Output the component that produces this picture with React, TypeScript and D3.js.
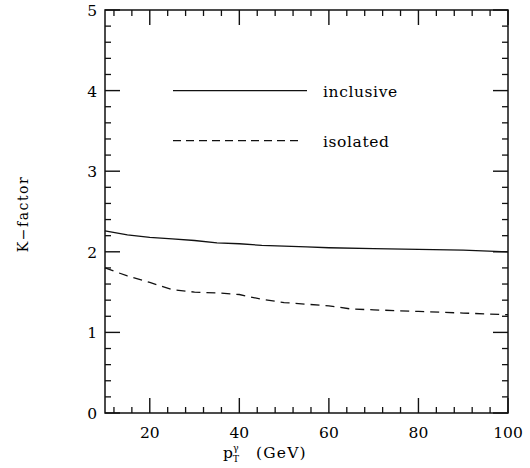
import React from "react";
import * as d3 from "d3";

const inclusivePt = [10, 15, 20, 25, 30, 35, 40, 45, 50, 55, 60, 70, 80, 90, 100];
const inclusiveK = [2.26, 2.21, 2.18, 2.16, 2.14, 2.11, 2.1, 2.08, 2.07, 2.06, 2.05, 2.04, 2.03, 2.02, 2.0];
const isolatedPt = [10, 15, 20, 25, 30, 35, 40, 45, 50, 55, 60, 65, 70, 80, 90, 100];
const isolatedK = [1.8, 1.7, 1.62, 1.53, 1.5, 1.49, 1.47, 1.41, 1.37, 1.35, 1.33, 1.29, 1.28, 1.26, 1.24, 1.22];
const xMajorTicks = [20, 40, 60, 80, 100];
const yMajorTicks = [0, 1, 2, 3, 4, 5];
const legendLabels = ["inclusive", "isolated"];

const FONT = "DejaVu Serif";

export default function App() {
  const L = 105, R = 508, T = 10, B = 413;
  const x = d3.scaleLinear().domain([10, 100]).range([L, R]);
  const y = d3.scaleLinear().domain([0, 5]).range([B, T]);
  const line = d3.line<[number, number]>().x(d => x(d[0])).y(d => y(d[1]));
  const incl = inclusivePt.map((p, i) => [p, inclusiveK[i]] as [number, number]);
  const iso = isolatedPt.map((p, i) => [p, isolatedK[i]] as [number, number]);

  const xMinor = d3.range(12, 100, 4).filter(v => !xMajorTicks.includes(v));
  const yMinor = d3.range(0, 5.001, 0.2).filter(v => Math.abs(v - Math.round(v)) > 1e-6);

  const majLen = 15, minLen = 6;
  const stroke = "#111";
  const fs = 15.5;

  return (
    <svg width={530} height={468} style={{ display: "block", position: "absolute", left: 0, top: 0 }}>
      <rect x={0} y={0} width={530} height={468} fill="#fff" />
      <rect x={L} y={T} width={R - L} height={B - T} fill="none" stroke={stroke} strokeWidth={1.5} />
      {xMajorTicks.map(v => (
        <g key={"xM" + v}>
          <line x1={x(v)} x2={x(v)} y1={B} y2={B - majLen} stroke={stroke} strokeWidth={1.4} />
          <line x1={x(v)} x2={x(v)} y1={T} y2={T + majLen} stroke={stroke} strokeWidth={1.4} />
          <text x={x(v)} y={438} textAnchor="middle" fontFamily={FONT} fontSize={fs} fill="#000">{v}</text>
        </g>
      ))}
      {xMinor.map(v => (
        <g key={"xm" + v}>
          <line x1={x(v)} x2={x(v)} y1={B} y2={B - minLen} stroke={stroke} strokeWidth={1.3} />
          <line x1={x(v)} x2={x(v)} y1={T} y2={T + minLen} stroke={stroke} strokeWidth={1.3} />
        </g>
      ))}
      {yMajorTicks.map(v => (
        <g key={"yM" + v}>
          <line x1={L} x2={L + majLen} y1={y(v)} y2={y(v)} stroke={stroke} strokeWidth={1.4} />
          <line x1={R} x2={R - majLen} y1={y(v)} y2={y(v)} stroke={stroke} strokeWidth={1.4} />
          <text x={97} y={y(v) + 6} textAnchor="end" fontFamily={FONT} fontSize={fs} fill="#000">{v}</text>
        </g>
      ))}
      {yMinor.map(v => (
        <g key={"ym" + v.toFixed(1)}>
          <line x1={L} x2={L + minLen} y1={y(v)} y2={y(v)} stroke={stroke} strokeWidth={1.3} />
          <line x1={R} x2={R - minLen} y1={y(v)} y2={y(v)} stroke={stroke} strokeWidth={1.3} />
        </g>
      ))}
      <path d={line(incl) || ""} fill="none" stroke={stroke} strokeWidth={1.3} />
      <path d={line(iso) || ""} fill="none" stroke={stroke} strokeWidth={1.3} strokeDasharray="9,6" />
      <line x1={173} x2={307} y1={y(4)} y2={y(4)} stroke={stroke} strokeWidth={1.3} />
      <text x={323} y={y(4) + 6} fontFamily={FONT} fontSize={fs} letterSpacing={0.6} fill="#000">{legendLabels[0]}</text>
      <line x1={173} x2={302} y1={y(3.38)} y2={y(3.38)} stroke={stroke} strokeWidth={1.3} strokeDasharray="8,5" />
      <text x={323} y={y(3.38) + 6} fontFamily={FONT} fontSize={fs} letterSpacing={0.6} fill="#000">{legendLabels[1]}</text>
      <text x={223} y={458} fontFamily={FONT} fontSize={fs} fill="#000">
        p
        <tspan fontSize={9.5} dy={-7}>γ</tspan>
        <tspan fontSize={9.5} dx={-6} dy={11}>T</tspan>
        <tspan fontSize={fs} x={256} dy={-4} letterSpacing={1.2}>(GeV)</tspan>
      </text>
      <text transform={`translate(28, 214) rotate(-90)`} textAnchor="middle" fontFamily={FONT} fontSize={14} letterSpacing={1.5} fill="#000">K−factor</text>
    </svg>
  );
}
